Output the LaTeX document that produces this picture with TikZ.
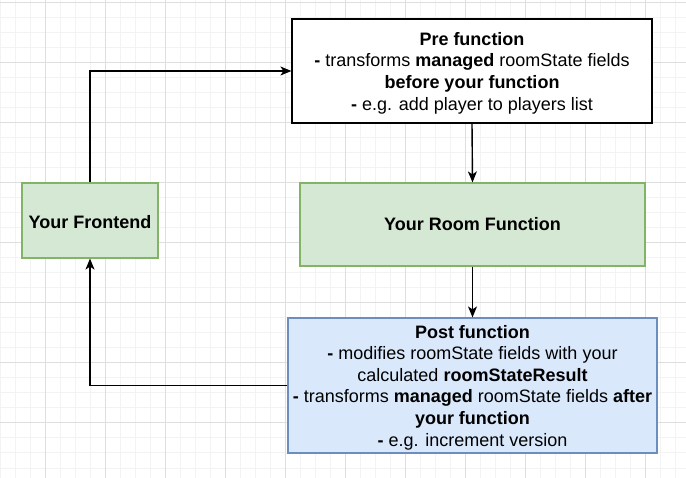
\documentclass[tikz,border=0pt]{standalone}
\usepackage{fontspec}
\setmainfont{Liberation Sans}
\usetikzlibrary{arrows.meta}
\definecolor{gridminor}{RGB}{243,243,243}
\definecolor{gridmajor}{RGB}{222,222,222}
\definecolor{greenfill}{HTML}{D5E8D4}
\definecolor{greenline}{HTML}{82B366}
\definecolor{bluefill}{HTML}{DAE8FC}
\definecolor{blueline}{HTML}{6C8EBF}
\newcommand{\topgap}{\rule{0pt}{17pt}}

\begin{document}
\begin{tikzpicture}[x=1pt, y=-1pt,
  >={Stealth[length=11pt,width=9pt,inset=3pt]},
  box/.style={draw, line width=1.2pt, align=center, inner sep=0pt,
    font=\fontsize{18}{21.6}\selectfont},
  greenbox/.style={box, draw=greenline, fill=greenfill},
  bluebox/.style={box, draw=blueline, fill=bluefill},
  link/.style={->, line width=1.4pt}]
\useasboundingbox (0,0) rectangle (686,478);
\fill[white] (0,0) rectangle (686,478);
%grid
\foreach \x in {0,15,...,675}
  \draw[gridminor, line width=1pt] (\x,0) -- (\x,478);
\foreach \y in {3,18,...,468}
  \draw[gridminor, line width=1pt] (0,\y) -- (686,\y);
\foreach \x in {45,105,...,645}
  \draw[gridmajor, line width=1pt] (\x,0) -- (\x,478);
\foreach \y in {3,63,...,423}
  \draw[gridmajor, line width=1pt] (0,\y) -- (686,\y);
%boxes
\node[box, fill=white, minimum width=360pt, minimum height=104pt] (pre) at (472,71)
  {\topgap\textbf{Pre function}\\
   \textbf{-} transforms \textbf{managed} roomState fields\\
   \textbf{before your function}\\
   \textbf{-} e.g. add player to players list};
\node[greenbox, minimum width=136pt, minimum height=75pt] (front) at (90,220.5)
  {\topgap\textbf{Your Frontend}};
\node[greenbox, minimum width=345pt, minimum height=83pt] (room) at (472.5,224.5)
  {\textbf{Your Room Function}};
\node[bluebox, minimum width=369pt, minimum height=135pt] (post) at (472.5,385.5)
  {\topgap\textbf{Post function}\\
   \textbf{-} modifies roomState fields with your\\
   calculated \textbf{roomStateResult}\\
   \textbf{-} transforms \textbf{managed} roomState fields \textbf{after}\\
   \textbf{your function}\\
   \textbf{-} e.g. increment version};
%arrows
\draw[link] (front.north) |- (pre.west);
\draw[link] (pre.south) -- (room.north);
\draw[link] (room.south) -- (post.north);
\draw[link] (post.west) -| (front.south);
\end{tikzpicture}
\end{document}
